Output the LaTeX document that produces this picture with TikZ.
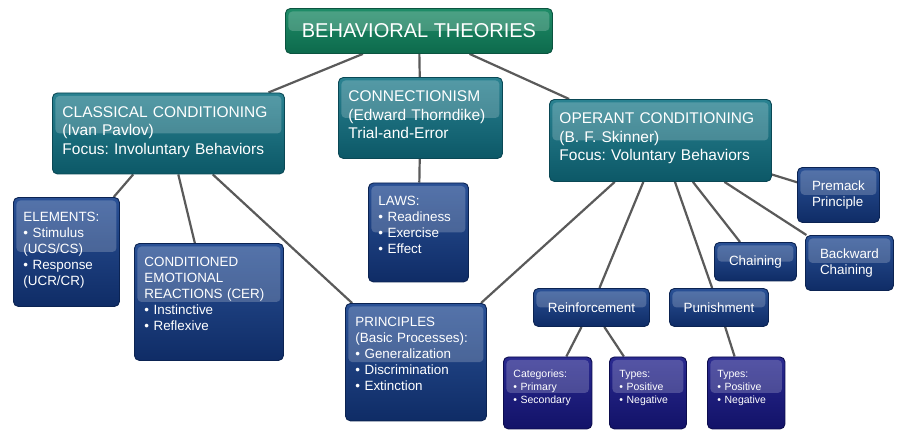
\documentclass[tikz,border=0pt]{standalone}
\usepackage{fontspec}
\setmainfont{Liberation Sans}
\usetikzlibrary{backgrounds}
\frenchspacing

\definecolor{greentop}{HTML}{1F8C68}
\definecolor{greenbot}{HTML}{0D6A4C}
\definecolor{greenedge}{HTML}{0B5440}
\definecolor{tealtop}{HTML}{2A8291}
\definecolor{tealbot}{HTML}{0C5867}
\definecolor{tealedge}{HTML}{0A4855}
\definecolor{bluetop}{HTML}{2A5196}
\definecolor{bluebot}{HTML}{0F2C66}
\definecolor{blueedge}{HTML}{0B2352}
\definecolor{navytop}{HTML}{2A2A90}
\definecolor{navybot}{HTML}{121268}
\definecolor{navyedge}{HTML}{0C0C4E}
\definecolor{linkgray}{HTML}{5A5A5A}

\tikzset{
    gloss/.style={
        path picture={
            \fill[white,opacity=0.2,rounded corners=4pt]
                ([xshift=3pt,yshift=-3pt]path picture bounding box.north west)
                rectangle ([xshift=-3pt]path picture bounding box.east);
        },
    },
    concept/.style={
        rectangle,
        rounded corners=5pt,
        line width=0.9pt,
        text=white,
        anchor=north west,
        align=left,
        inner xsep=10pt,
        inner ysep=0pt,
        gloss,
    },
    greenbox/.style={concept, top color=greentop, bottom color=greenbot, draw=greenedge},
    tealbox/.style={concept, top color=tealtop, bottom color=tealbot, draw=tealedge,
        font=\fontsize{15.5}{18.5}\selectfont, text height=24.5pt},
    bluebox/.style={concept, top color=bluetop, bottom color=bluebot, draw=blueedge,
        font=\fontsize{13.4}{16}\selectfont},
    navybox/.style={concept, top color=navytop, bottom color=navybot, draw=navyedge,
        font=\fontsize{10.5}{13}\selectfont, text height=20.5pt, text depth=51.5pt},
    link/.style={draw=linkgray, line width=2.2pt},
}

\begin{document}
\begin{tikzpicture}[x=1pt,y=-1pt]
    \useasboundingbox (0,0) rectangle (900,440);
    \begin{scope}[on background layer]
        \fill[white] (0,0) rectangle (900,440);
    \end{scope}

    % top
    \node [greenbox, minimum width=267pt, minimum height=45pt,
        font=\fontsize{20}{24}\selectfont] (title) at (285,8) {BEHAVIORAL THEORIES};

    % theories
    \node [tealbox, text width=212pt, text depth=56.5pt] (classical) at (52,92.5)
        {CLASSICAL CONDITIONING\\(Ivan Pavlov)\\Focus: Involuntary Behaviors};
    \node [tealbox, text width=144pt, text depth=56.5pt] (connect) at (338,77)
        {CONNECTIONISM\\(Edward Thorndike)\\Trial-and-Error};
    \node [tealbox, text width=202pt, text depth=57.5pt] (operant) at (549,99)
        {OPERANT CONDITIONING\\(B. F. Skinner)\\Focus: Voluntary Behaviors};

    % classical / connectionism
    \node [bluebox, text width=86pt, text height=24pt, text depth=85pt] (elements) at (13,197)
        {ELEMENTS:\\\textbullet{} Stimulus\\(UCS/CS)\\\textbullet{} Response\\(UCR/CR)};
    \node [bluebox, text width=129pt, text height=23pt, text depth=94pt] (cer) at (134,243)
        {CONDITIONED\\EMOTIONAL\\REACTIONS (CER)\\\textbullet{} Instinctive\\\textbullet{} Reflexive};
    \node [bluebox, text width=80pt, text height=23pt, text depth=76pt] (laws) at (368,182.5)
        {LAWS:\\\textbullet{} Readiness\\\textbullet{} Exercise\\\textbullet{} Effect};
    \node [bluebox, text width=121pt, text height=23.4pt, text depth=94pt] (principles) at (345,303)
        {PRINCIPLES\\(Basic Processes):\\\textbullet{} Generalization\\\textbullet{} Discrimination\\\textbullet{} Extinction};

    % operant
    \node [bluebox, minimum width=82pt, minimum height=55pt] (premack) at (797,167)
        {Premack\\Principle};
    \node [bluebox, minimum width=88pt, minimum height=55pt] (backward) at (805,235)
        {Backward\\Chaining};
    \node [bluebox, minimum width=82pt, minimum height=38.5pt] (chaining) at (714,242) {Chaining};
    \node [bluebox, minimum width=116pt, minimum height=38pt] (reinf) at (533,288) {Reinforcement};
    \node [bluebox, minimum width=99pt, minimum height=38pt] (punish) at (669,288) {Punishment};

    \node [navybox, text width=68.5pt] (categories) at (503,356.5)
        {Categories:\\\textbullet{} Primary\\\textbullet{} Secondary};
    \node [navybox, text width=57pt] (reinftypes) at (609,356.5)
        {Types:\\\textbullet{} Positive\\\textbullet{} Negative};
    \node [navybox, text width=57.5pt] (punishtypes) at (707,356.5)
        {Types:\\\textbullet{} Positive\\\textbullet{} Negative};

    \begin{scope}[on background layer]
        \draw[link] (title) -- (classical);
        \draw[link] (title) -- (connect);
        \draw[link] (title) -- (operant);
        \draw[link] (classical) -- (elements);
        \draw[link] (classical) -- (cer);
        \draw[link] (classical) -- (principles);
        \draw[link] (connect) -- (laws);
        \draw[link] (operant) -- (principles);
        \draw[link] (operant) -- (reinf);
        \draw[link] (operant) -- (punish);
        \draw[link] (operant) -- (chaining);
        \draw[link] (operant) -- (backward);
        \draw[link] (operant) -- (premack);
        \draw[link] (reinf) -- (categories);
        \draw[link] (reinf) -- (reinftypes);
        \draw[link] (punish) -- (punishtypes);
    \end{scope}
\end{tikzpicture}
\end{document}
